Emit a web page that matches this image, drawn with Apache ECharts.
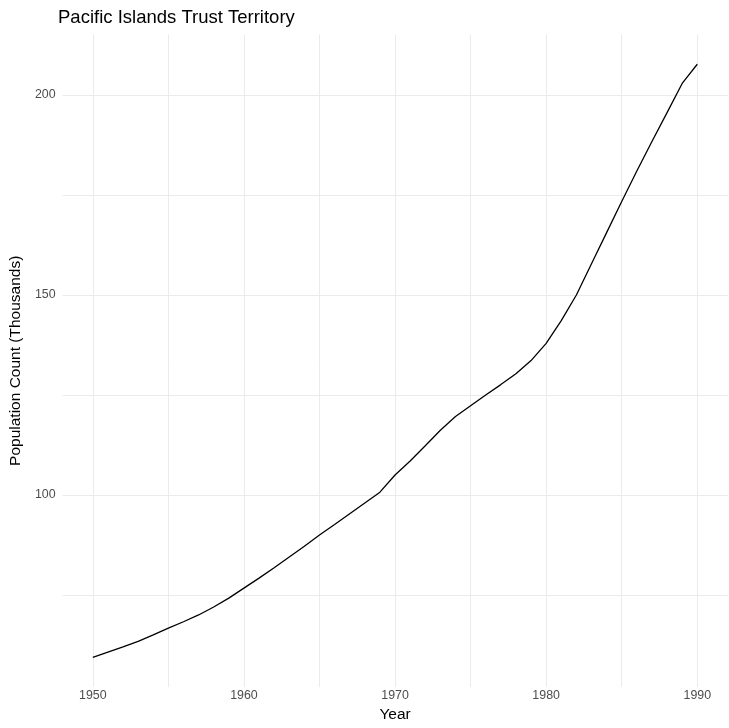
<!DOCTYPE html>
<html>
<head>
<meta charset="utf-8">
<script src="https://cdn.jsdelivr.net/npm/echarts@6/dist/echarts.min.js"></script>
<style>
html,body{margin:0;padding:0;background:#fff;}
#chart{width:729px;height:728px;}
</style>
</head>
<body>
<div id="chart"></div>
<script>
const years = [1950,1951,1952,1953,1954,1955,1956,1957,1958,1959,1960,1961,1962,1963,1964,1965,1966,1967,1968,1969,1970,1971,1972,1973,1974,1975,1976,1977,1978,1979,1980,1981,1982,1983,1984,1985,1986,1987,1988,1989,1990];
const population = [59.4,60.7,62.0,63.4,65.0,66.7,68.3,70.0,72.0,74.2,76.7,79.2,81.8,84.5,87.2,90.0,92.6,95.3,98.0,100.7,105.0,108.5,112.3,116.2,119.6,122.3,125.0,127.6,130.3,133.6,137.9,143.6,150.0,157.8,165.6,173.4,181.0,188.4,195.6,202.9,207.7];
const xTickLabels = [1950,1960,1970,1980,1990];
const yTickLabels = [100,150,200];
const xGridValues = [1950,1955,1960,1965,1970,1975,1980,1985,1990];
const yGridValues = [75,100,125,150,175,200];

const FONT = "'Liberation Sans', Arial, Helvetica, sans-serif";
const xMinD = Math.min(...years), xMaxD = Math.max(...years);
const yMinD = Math.min(...population), yMaxD = Math.max(...population);
const xPad = (xMaxD - xMinD) * 0.05, yPad = (yMaxD - yMinD) * 0.05;

const chart = echarts.init(document.getElementById('chart'), null, {renderer: 'canvas'});
const gridStyle = {color: '#ebebeb', width: 1, type: 'solid'};
chart.setOption({
  backgroundColor: '#ffffff',
  animation: false,
  title: {
    text: 'Pacific Islands Trust Territory',
    left: 53,
    top: 3,
    textStyle: {fontFamily: FONT, fontSize: 18.5, fontWeight: 'normal', color: '#000'}
  },
  grid: {left: 58, right: 1.5, top: 34.6, bottom: 41},
  xAxis: {
    type: 'value',
    min: xMinD - xPad,
    max: xMaxD + xPad,
    name: 'Year',
    nameLocation: 'middle',
    nameGap: 17,
    nameTextStyle: {fontFamily: FONT, fontSize: 15.5, color: '#000'},
    axisLine: {show: false},
    axisTick: {show: false},
    splitLine: {show: false},
    axisLabel: {customValues: xTickLabels, formatter: v => String(v), fontFamily: FONT, fontSize: 12.4, color: '#4d4d4d', margin: 3}
  },
  yAxis: {
    type: 'value',
    min: yMinD - yPad,
    max: yMaxD + yPad,
    name: 'Population Count (Thousands)',
    nameLocation: 'middle',
    nameGap: 29,
    nameTextStyle: {fontFamily: FONT, fontSize: 15.5, color: '#000'},
    axisLine: {show: false},
    axisTick: {show: false},
    splitLine: {show: false},
    axisLabel: {customValues: yTickLabels, formatter: v => String(v), fontFamily: FONT, fontSize: 12.4, color: '#4d4d4d', margin: 7}
  },
  series: [
    {
      type: 'line',
      z: 1,
      silent: true,
      data: years.map((y, i) => [y, population[i]]),
      showSymbol: false,
      lineStyle: {opacity: 0, width: 0},
      markLine: {
        silent: true,
        symbol: ['none', 'none'],
        label: {show: false},
        lineStyle: gridStyle,
        animation: false,
        data: xGridValues.map(v => ({xAxis: v})).concat(yGridValues.map(v => ({yAxis: v})))
      }
    },
    {
      type: 'line',
      z: 5,
      data: years.map((y, i) => [y, population[i]]),
      showSymbol: false,
      symbol: 'none',
      lineStyle: {color: '#000', width: 1.3},
      emphasis: {disabled: true}
    }
  ]
});
</script>
</body>
</html>
